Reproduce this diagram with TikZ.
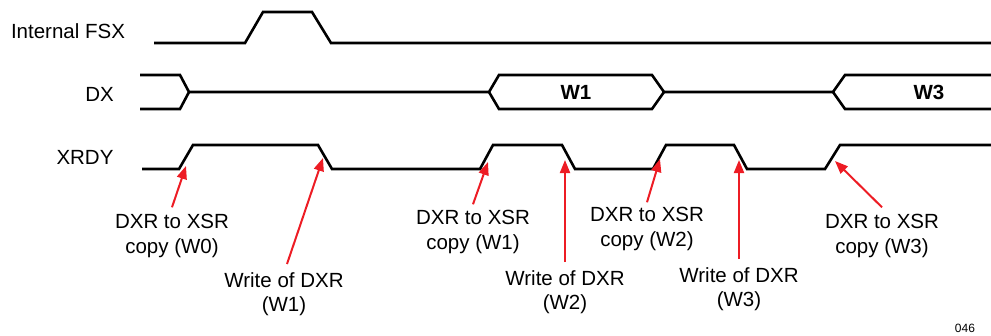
\documentclass[tikz,border=0pt]{standalone}
\usepackage{fontspec}
\setmainfont{Liberation Sans}
\usetikzlibrary{arrows.meta}
\definecolor{arrred}{RGB}{237,28,36}
\begin{document}
\begin{tikzpicture}[x=1pt,y=-1pt,
  sig/.style={line width=2.6pt},
  redarrow/.style={draw=arrred, line width=2pt, -{Triangle[length=13pt,width=10pt,fill=arrred]}},
  lab/.style={font=\fontsize{20.5}{24.5}\selectfont, inner sep=0pt},
  callout/.style={lab, align=center},
  small/.style={font=\fontsize{12}{14}\selectfont, inner sep=0pt}]
\useasboundingbox (0,0) rectangle (991,335);

% signal names
\node[lab, anchor=base] (nfsx) at (68,38.5) {Internal FSX};
\node[lab, anchor=base] (ndx) at (99.5,101) {DX};
\node[lab, anchor=base] (nxrdy) at (85,164) {XRDY};

% Internal FSX
\draw[sig] (154,43) -- (245,43) -- (263,12) -- (312,12) -- (331,43) -- (991,43);

% DX
\draw[sig] (140,75) -- (180,75) -- (189,92) -- (489,92) -- (499,75) -- (652,75) -- (664,92) -- (833,92) -- (845,75) -- (991,75);
\draw[sig] (140,109) -- (180,109) -- (189,92);
\draw[sig] (489,92) -- (499,109) -- (652,109) -- (664,92);
\draw[sig] (833,92) -- (845,109) -- (991,109);
\node[lab, font=\fontsize{20.5}{24.5}\selectfont\bfseries] (w1) at (576,92) {W1};
\node[lab, font=\fontsize{20.5}{24.5}\selectfont\bfseries] (w3) at (929,92) {W3};

% XRDY
\draw[sig] (142,169) -- (179,169) -- (193,145) -- (318,145) -- (332,169) -- (480,169) -- (493,145) -- (562,145) -- (575,169) -- (653,169) -- (666,145) -- (734,145) -- (747,169) -- (825,169) -- (840,145) -- (991,145);

% callout labels
\node[callout] (c0) at (172,236) {DXR to XSR\\copy (W0)};
\node[callout] (r1) at (284,294) {Write of DXR\\(W1)};
\node[callout] (c1) at (473,232) {DXR to XSR\\copy (W1)};
\node[callout] (r2) at (565,292) {Write of DXR\\(W2)};
\node[callout] (c2) at (647,229) {DXR to XSR\\copy (W2)};
\node[callout] (r3) at (739,289) {Write of DXR\\(W3)};
\node[callout] (c3) at (882,236) {DXR to XSR\\copy (W3)};
\node[small, anchor=base] (code) at (965,332) {046};

% arrow tips
\coordinate (t0) at (186,166);
\coordinate (t1) at (323,158);
\coordinate (t2) at (488,162);
\coordinate (t3) at (565,160);
\coordinate (t4) at (660,159);
\coordinate (t5) at (739,160);
\coordinate (t6) at (835,161);

\draw[redarrow] ([yshift=7pt]c0.north) -- (t0);
\draw[redarrow] ([xshift=3pt,yshift=8pt]r1.north) -- (t1);
\draw[redarrow] ([yshift=6pt]c1.north) -- (t2);
\draw[redarrow] ([yshift=8pt]r2.north) -- (t3);
\draw[redarrow] ([yshift=5pt]c2.north) -- (t4);
\draw[redarrow] ([yshift=8pt]r3.north) -- (t5);
\draw[redarrow] ([yshift=7pt]c3.north) -- (t6);
\end{tikzpicture}
\end{document}
